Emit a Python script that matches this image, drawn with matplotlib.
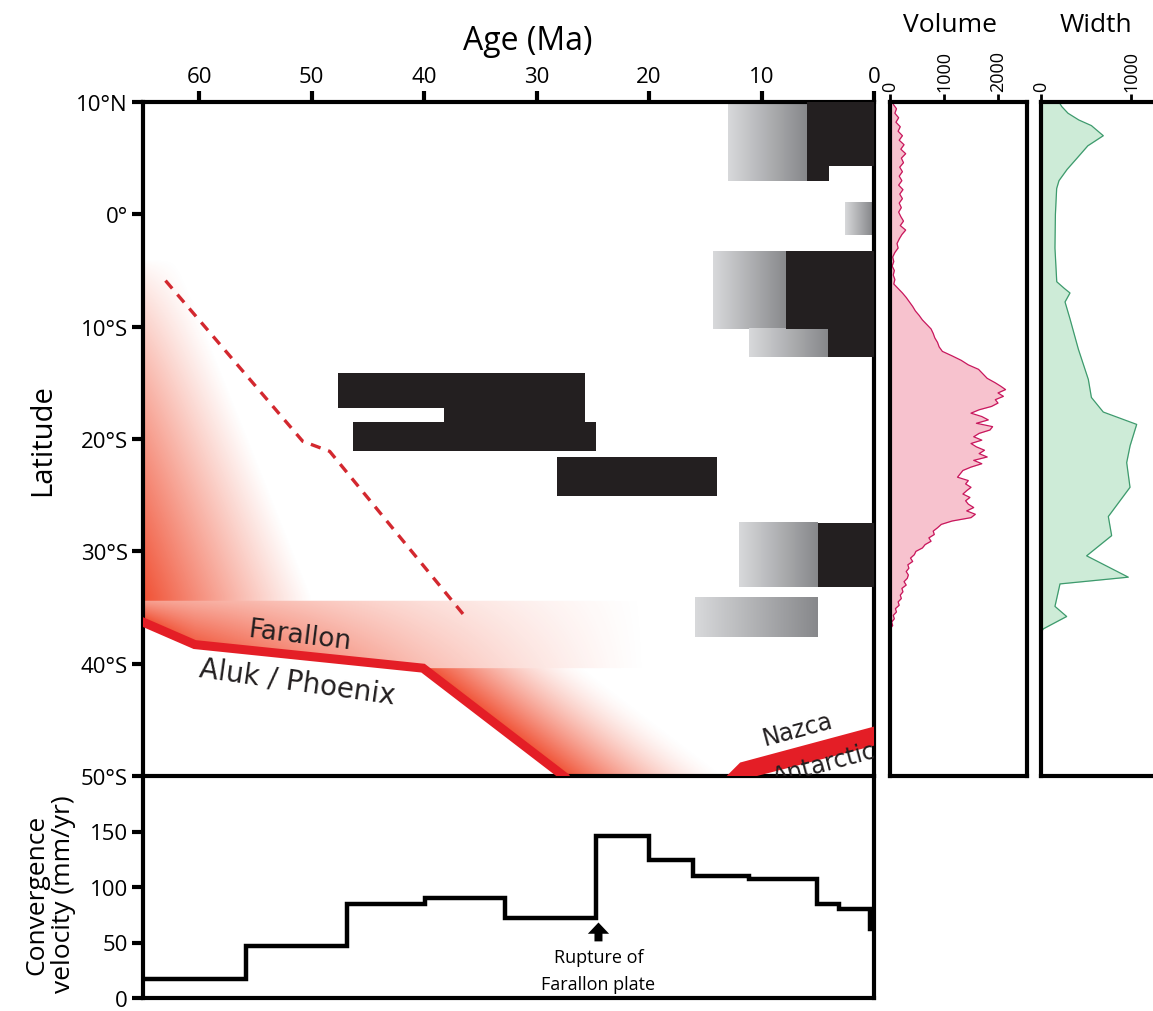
import numpy as np
import matplotlib.pyplot as plt
from matplotlib.patches import Rectangle, Polygon
from matplotlib.colors import LinearSegmentedColormap

plt.rcParams['font.family'] = ['Open Sans', 'DejaVu Sans']

# --- data -----------------------------------------------------------------
lat_ticks = [10, 0, -10, -20, -30, -40, -50]
lat_labels = ['10°N', '0°', '10°S', '20°S', '30°S', '40°S', '50°S']
age_ticks = [60, 50, 40, 30, 20, 10, 0]

# magmatic activity, black = main pulses
black_age_old = [6.0, 6.0, 7.8, 4.1, 47.7, 38.2, 46.3, 28.2, 5.0]
black_age_young = [0.0, 4.0, 0.0, 0.0, 25.7, 25.7, 24.7, 14.0, 0.0]
black_lat_top = [10.0, 4.3, -3.3, -10.2, -14.1, -17.2, -18.5, -21.6, -27.5]
black_lat_bot = [4.3, 3.0, -10.2, -12.7, -17.2, -18.5, -21.1, -25.1, -33.2]

# gradient (grey) bars
grey_age_old = [13.0, 2.6, 14.3, 11.1, 12.0, 15.9]
grey_age_young = [6.0, 0.2, 7.8, 4.1, 5.0, 5.0]
grey_lat_top = [10.0, 1.1, -3.3, -10.2, -27.5, -34.1]
grey_lat_bot = [3.0, -1.8, -10.2, -12.7, -33.2, -37.6]

# dashed trend line
dash_age = [63.0, 50.8, 48.4, 36.2]
dash_lat = [-5.9, -20.2, -21.1, -36.0]

# Farallon / Aluk-Phoenix boundary
far_age = [65.0, 60.4, 40.1, 27.6]
far_lat = [-36.3, -38.3, -40.4, -50.0]

# Nazca / Antarctic boundary band
naz_age = [13.1, 11.9, 0.0, 0.0, 10.4]
naz_lat = [-50.0, -48.8, -45.6, -47.3, -50.0]

# convergence velocity (mm/yr), step edges in Ma
vel_edges = [0.0, 0.4, 3.1, 5.1, 11.1, 16.1, 20.0, 24.7, 32.8, 39.9, 46.9, 55.8, 65.0]
vel_values = [62, 80.5, 85, 107, 110, 124, 145.5, 72.5, 90, 84.5, 47, 17]

# volume profile
vol_lat = [9.8, 9.4, 9.0, 8.6, 8.2, 7.8, 7.4, 7.0, 6.6, 6.2, 5.8, 5.4, 5.0, 4.6,
           4.2, 3.8, 3.4, 3.0, 2.6, 2.2, 1.8, 1.4, 1.0, 0.6, 0.2, -0.2, -0.6,
           -1.0, -1.4, -1.8, -2.2, -2.6, -3.0, -3.4, -3.8, -4.2, -4.6, -5.0,
           -5.4, -5.8, -6.2, -6.6, -7.0, -7.4, -7.8, -8.2, -8.6, -9.0, -9.4,
           -9.8, -10.2, -10.6, -11.0, -11.4, -11.8, -12.2, -12.6, -13.0, -13.4,
           -13.8, -14.2, -14.6, -15.0, -15.3, -15.6, -15.9, -16.2, -16.5, -16.8,
           -17.1, -17.4, -17.7, -18.0, -18.3, -18.6, -18.9, -19.2, -19.5, -19.8,
           -20.1, -20.4, -20.7, -21.0, -21.3, -21.6, -21.9, -22.2, -22.5, -22.8,
           -23.1, -23.4, -23.7, -24.0, -24.3, -24.6, -24.9, -25.2, -25.5, -25.8,
           -26.1, -26.4, -26.7, -27.0, -27.3, -27.6, -27.9, -28.2, -28.5, -28.8,
           -29.1, -29.4, -29.7, -30.0, -30.3, -30.6, -30.9, -31.2, -31.5, -31.8,
           -32.1, -32.4, -32.7, -33.0, -33.3, -33.6, -33.9, -34.2, -34.5, -34.8,
           -35.1, -35.4, -35.7, -36.0, -36.3, -36.6, -36.9]
vol_val = [60, 120, 90, 160, 110, 190, 150, 230, 170, 260, 200, 290, 210, 250,
           180, 230, 170, 220, 160, 240, 180, 230, 170, 210, 160, 200, 250,
           190, 290, 220, 170, 130, 150, 90, 50, 70, 40, 80,
           60, 90, 70, 150, 230, 300, 360, 420, 470, 540, 600,
           680, 760, 800, 830, 880, 910, 970, 1150, 1320, 1450,
           1640, 1720, 1800, 1950, 2050, 2140, 2000, 2100, 1950, 2000,
           1880, 1650, 1500, 1700, 1820, 1600, 1900, 1850, 1650, 1550,
           1700, 1500, 1600, 1750, 1650, 1800, 1550, 1700, 1500, 1350,
           1300, 1250, 1450, 1400, 1500, 1420, 1350, 1480, 1400, 1450,
           1550, 1420, 1580, 1500, 1150, 950, 880, 800, 820, 720,
           760, 650, 600, 480, 450, 380, 420, 330, 350, 300,
           340, 320, 260, 300, 220, 240, 190, 210, 150, 170,
           100, 120, 60, 80, 30, 50, 0]

# arc width profile
wid_lat = [10.0, 9.6, 9.0, 8.4, 7.9, 7.0, 6.1, 5.0, 4.0, 3.0, 2.3, 0.0, -3.0,
           -6.0, -6.6, -7.0, -7.8, -9.3, -12.0, -14.7, -16.3, -17.6, -18.7,
           -20.6, -22.1, -24.3, -26.9, -28.6, -30.4, -32.3, -32.9, -34.9,
           -35.8, -36.9, -37.2]
wid_val = [200, 230, 300, 420, 560, 692, 520, 400, 290, 200, 174, 160, 155,
           175, 260, 322, 267, 322, 415, 526, 560, 692, 1063,
           990, 952, 989, 748, 785, 507, 970, 211, 155,
           285, 26, 0]

# --- figure -----------------------------------------------------------------
W, H = 1153, 1012
fig = plt.figure(figsize=(W / 100, H / 100), dpi=100)


def px_box(x0, y0, x1, y1):
    return [x0 / W, 1 - y1 / H, (x1 - x0) / W, (y1 - y0) / H]


ax_vel = fig.add_axes(px_box(143, 777, 874, 999))
ax = fig.add_axes(px_box(143, 103, 874, 777))
ax_vol = fig.add_axes(px_box(890, 103, 1027, 777))
ax_wid = fig.add_axes(px_box(1041, 103, 1203, 777))
ax_vel.patch.set_alpha(0)

SPINE = 3.0
TICK_FS = 16
red = (0.94, 0.26, 0.14)

# background red gradients (subducting plate ages)
n = 700
A, L = np.meshgrid(np.linspace(65, 0, n), np.linspace(10, -50, n))
alpha = np.zeros_like(A)

s = np.clip((-4 - L) / 30, 0, 1)
wA = 3.0 + 12.0 * s
aA = 0.92 * s ** 0.8 * np.clip(1 - (65 - A) / wA, 0, 1) ** 1.1
alpha = np.where(L > -34.4, aA, alpha)

band_low = np.where(A >= 40.1, np.interp(A, far_age[:3][::-1], far_lat[:3][::-1]), -40.4)
maskB = (L <= -34.4) & (L > band_low)
t = (-34.4 - L) / (-34.4 - band_low)
aB = np.clip((A - 20) / 45, 0, 1) ** 1.3 * (0.5 + 0.5 * t)
alpha = np.where(maskB, aB, alpha)

diag = np.interp(L, [-50, -40.4], [27.6, 40.1])
maskC = (L <= -40.4) & (A < diag)
aC = 0.95 * np.clip(1 - (diag - A) / 14.5, 0, 1) ** 1.5
alpha = np.where(maskC, aC, alpha)

img = np.zeros((n, n, 4))
img[..., 0], img[..., 1], img[..., 2] = red
img[..., 3] = alpha
ax.imshow(img, extent=(65, 0, -50, 10), aspect='auto', origin='upper',
          zorder=0, interpolation='bilinear')

grey_cmap = LinearSegmentedColormap.from_list('grey_grad', ['#d8d9db', '#87888b'])
grad = np.linspace(0, 1, 256)[None, :]
for old, young, top, bot in zip(grey_age_old, grey_age_young, grey_lat_top, grey_lat_bot):
    ax.imshow(grad, extent=(old, young, bot, top), cmap=grey_cmap,
              aspect='auto', zorder=2)

for old, young, top, bot in zip(black_age_old, black_age_young, black_lat_top, black_lat_bot):
    ax.add_patch(Rectangle((young, bot), old - young, top - bot,
                           facecolor='#231f20', edgecolor='none', zorder=3))

ax.plot(dash_age, dash_lat, color='#d3282f', lw=2.4, dashes=(3.1, 2.4), zorder=4)
ax.plot(far_age, far_lat, color='#e41e26', lw=6.5, solid_joinstyle='miter',
        zorder=4, clip_on=True)
ax.add_patch(Polygon(list(zip(naz_age, naz_lat)), closed=True,
                     facecolor='#e41e26', edgecolor='none', zorder=4))

hand = dict(family=['DejaVu Sans'], color='#231f20', zorder=5)
ax.text(51.1, -37.5, 'Farallon', fontsize=19, rotation=-7, ha='center', va='center', **hand)
ax.text(51.3, -41.6, 'Aluk / Phoenix', fontsize=20, rotation=-8, ha='center', va='center', **hand)
ax.text(6.8, -45.8, 'Nazca', fontsize=17, rotation=15, ha='center', va='center', **hand)
ax.text(4.4, -48.9, 'Antarctic', fontsize=17, rotation=15, ha='center', va='center',
        clip_on=True, **hand)

ax.set_xlim(65, 0)
ax.set_ylim(-50, 10)
ax.set_xticks(age_ticks)
ax.set_yticks(lat_ticks)
ax.set_yticklabels(lat_labels)
ax.xaxis.tick_top()
ax.xaxis.set_label_position('top')
ax.set_xlabel('Age (Ma)', fontsize=23, labelpad=12)
ax.xaxis.label.set_x(0.527)
ax.set_ylabel('Latitude', fontsize=21, labelpad=14)
ax.tick_params(length=8, width=3, direction='out', labelsize=TICK_FS, pad=3)
for sp in ax.spines.values():
    sp.set_linewidth(SPINE)

# convergence velocity panel
ax_vel.stairs(vel_values, vel_edges, color='black', lw=3.2, baseline=None)
ax_vel.annotate('', xy=(24.5, 68), xytext=(24.5, 51),
                arrowprops=dict(arrowstyle='simple,head_length=0.45,head_width=0.85,tail_width=0.32',
                                color='black', lw=0, mutation_scale=18,
                                shrinkA=0, shrinkB=0))
ax_vel.text(24.5, 37, 'Rupture of', fontsize=13, ha='center', va='center')
ax_vel.text(24.5, 13, 'Farallon plate', fontsize=13, ha='center', va='center')
ax_vel.set_xlim(65, 0)
ax_vel.set_ylim(0, 200)
ax_vel.set_xticks([])
ax_vel.set_yticks([0, 50, 100, 150])
ax_vel.tick_params(length=8, width=3, direction='out', labelsize=TICK_FS, pad=3)
ax_vel.set_ylabel('Convergence\nvelocity (mm/yr)', fontsize=19, labelpad=10, linespacing=1.05)
ax_vel.yaxis.label.set_y(0.47)
ax_vel.spines['top'].set_visible(False)
for sp in ['left', 'right', 'bottom']:
    ax_vel.spines[sp].set_linewidth(SPINE)

# volume panel
ax_vol.fill_betweenx(vol_lat, 0, vol_val, color='#f7c2ce', lw=0)
ax_vol.plot(vol_val, vol_lat, color='#c8175d', lw=0.9)
ax_vol.set_xlim(0, 2537)
ax_vol.set_xticks([0, 1000, 2000])

# width panel
ax_wid.fill_betweenx(wid_lat, 0, wid_val, color='#cdebd7', lw=0)
ax_wid.plot(wid_val, wid_lat, color='#3d9a6d', lw=0.9)
ax_wid.set_xlim(0, 1800)
ax_wid.set_xticks([0, 1000])

for a in (ax_vol, ax_wid):
    a.set_ylim(-50, 10)
    a.set_yticks([])
    a.xaxis.tick_top()
    a.tick_params(axis='x', length=6, width=2, direction='out', labelsize=13,
                  labelrotation=90, pad=2)
    for sp in a.spines.values():
        sp.set_linewidth(SPINE)

fig.text(950 / W, 1 - 25 / H, 'Volume', fontsize=19, ha='center', va='center')
fig.text(1096 / W, 1 - 25 / H, 'Width', fontsize=19, ha='center', va='center')

fig.savefig('out.png', dpi=100)
